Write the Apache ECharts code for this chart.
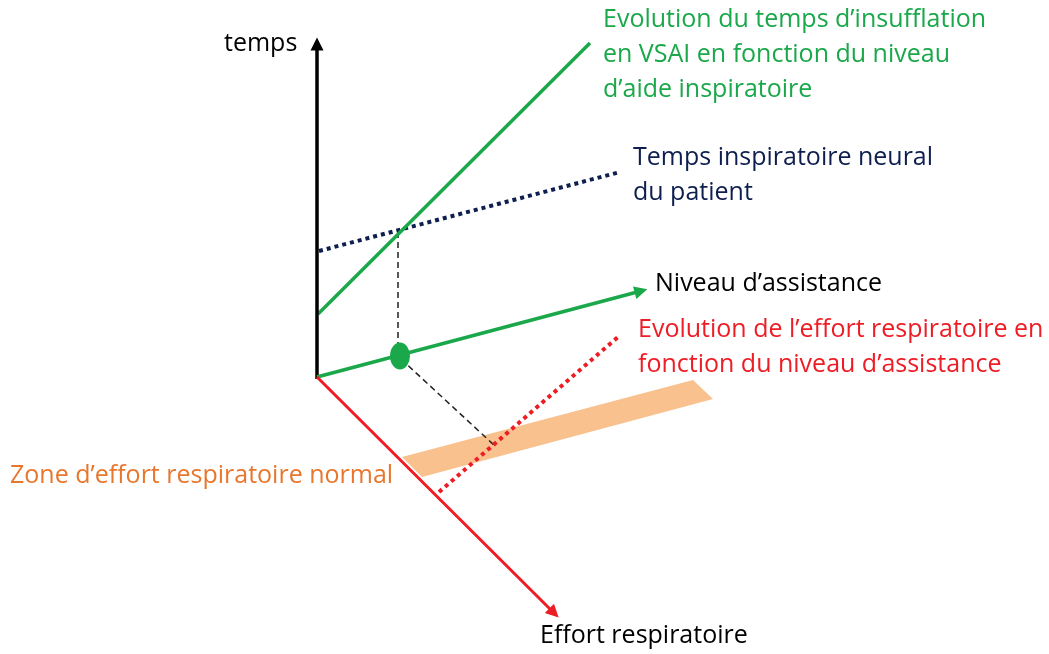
<!DOCTYPE html>
<html>
<head>
<meta charset="utf-8">
<script src="https://cdn.jsdelivr.net/npm/echarts@6/dist/echarts.min.js"></script>
<style>
  html, body { margin: 0; padding: 0; background: #fff; }
  #main { width: 1049px; height: 654px; }
</style>
</head>
<body>
<div id="main"></div>
<script>
// diagram in pixel-like units (x right, y down)
var tempsAxis = [[317, 379], [317, 44]];
var assistAxis = [[317, 377], [641, 291]];
var effortAxis = [[317, 377], [554, 613]];
var insufflation = [[318, 314], [590, 43]];
var neural = [[319, 251], [620, 172]];
var effort = [[439, 492], [618, 337]];
var guideV = [[398, 232], [398, 344]];
var guideD = [[401, 359], [495, 446]];
var point = [[400, 356]];
var normalZone = [[402, 457], [693, 380], [713, 399], [422, 477]];

var labelNames = [
  "temps",
  "Evolution du temps d\u2019insufflation\nen VSAI en fonction du niveau\nd\u2019aide inspiratoire",
  "Temps inspiratoire neural\ndu patient",
  "Niveau d\u2019assistance",
  "Evolution de l\u2019effort respiratoire en\nfonction du niveau d\u2019assistance",
  "Zone d\u2019effort respiratoire normal",
  "Effort respiratoire"
];
var labelAt = [[224, 26], [603, 2], [633, 140], [655, 266], [638, 312], [10, 458], [540, 618]];
var labelColors = ["#000000", "#1aa84a", "#0e1f4f", "#000000", "#ee1c25", "#e8772e", "#000000"];

var green = "#1aa84a";
var red = "#ee1c25";

var myChart = echarts.init(document.getElementById("main"));

function seg(coords, color, width, type, arrow) {
  return {
    type: "lines",
    coordinateSystem: "cartesian2d",
    polyline: false,
    symbol: arrow ? ["none", "triangle"] : ["none", "none"],
    symbolSize: [0, 13],
    silent: true,
    lineStyle: { color: color, width: width, type: type || "solid", opacity: 1, cap: "butt" },
    data: [{ coords: coords }]
  };
}

var option = {
  animation: false,
  grid: { left: 0, right: 0, top: 0, bottom: 0 },
  xAxis: { type: "value", min: 0, max: 1049, show: false },
  yAxis: { type: "value", min: 0, max: 654, inverse: true, show: false },
  series: [
    {
      type: "custom",
      silent: true,
      z: 1,
      renderItem: function (params, api) {
        var pts = normalZone.map(function (p) { return api.coord(p); });
        return { type: "polygon", shape: { points: pts }, style: { fill: "#f9c18e" } };
      },
      data: [0]
    },
    seg(guideV, "#222", 1.5, [6, 4]),
    seg(guideD, "#222", 1.5, [6, 4]),
    seg(effort, red, 4, [4, 4]),
    seg(neural, "#0e1f4f", 4, [4, 4]),
    seg(insufflation, green, 3.5),
    seg(tempsAxis, "#000", 3.5, null, true),
    seg(assistAxis, green, 3.5, null, true),
    seg(effortAxis, red, 3, null, true),
    {
      type: "scatter",
      silent: true,
      symbol: "circle",
      symbolSize: [20, 27],
      itemStyle: { color: green, opacity: 1 },
      data: point,
      z: 5
    },
    {
      type: "scatter",
      silent: true,
      symbolSize: 0,
      itemStyle: { color: "transparent", opacity: 1 },
      data: labelAt.map(function (p, i) {
        return {
          value: p,
          label: { formatter: labelNames[i], color: labelColors[i] }
        };
      }),
      label: {
        show: true,
        position: "inside",
        align: "left",
        verticalAlign: "top",
        fontFamily: "Open Sans",
        fontSize: 25,
        lineHeight: 35,
        opacity: 1,
        textBorderWidth: 0,
        textBorderColor: "transparent"
      }
    }
  ]
};

myChart.setOption(option);
</script>
</body>
</html>
